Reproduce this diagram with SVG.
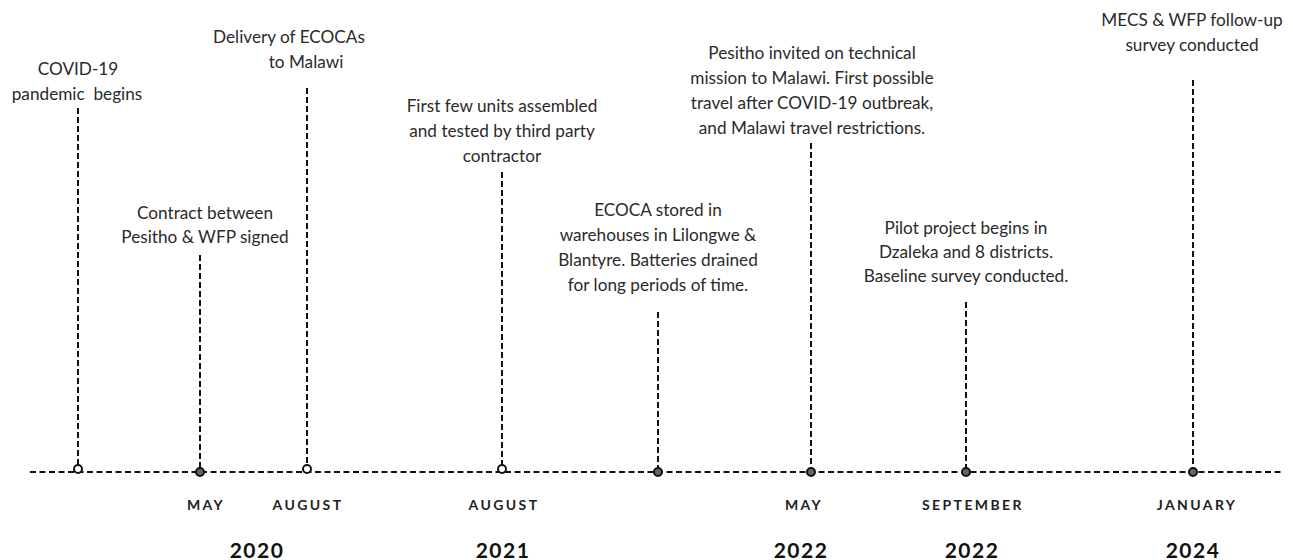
<svg xmlns="http://www.w3.org/2000/svg" width="1293" height="560" viewBox="0 0 1293 560">
<style>
.t{font-family:Lato,"Liberation Sans",sans-serif;font-size:17.2px;fill:#2a2a2a;text-anchor:middle}
.m{font-family:Lato,"Liberation Sans",sans-serif;font-size:14px;font-weight:bold;fill:#222;text-anchor:middle;letter-spacing:2.4px}
.y{font-family:Lato,"Liberation Sans",sans-serif;font-size:21px;font-weight:bold;fill:#111;text-anchor:middle;letter-spacing:1.5px}
.v{stroke:#111;stroke-width:2;stroke-dasharray:6 3;fill:none}
.h{stroke:#111;stroke-width:2;stroke-dasharray:6 3.5;fill:none}
.o{fill:#fff;stroke:#111;stroke-width:2}
.f{fill:#666;stroke:#111;stroke-width:2}
</style>
<rect width="1293" height="560" fill="#fff"/>
<g id="connectors">
<line class="h" x1="30" y1="472" x2="1281" y2="472"/>
<line class="v" x1="78" y1="108" x2="78" y2="466"/>
<line class="v" x1="200" y1="255" x2="200" y2="468"/>
<line class="v" x1="307" y1="88" x2="307" y2="466"/>
<line class="v" x1="502" y1="172" x2="502" y2="466"/>
<line class="v" x1="658" y1="312" x2="658" y2="468"/>
<line class="v" x1="811" y1="143" x2="811" y2="468"/>
<line class="v" x1="966" y1="302" x2="966" y2="468"/>
<line class="v" x1="1193" y1="80" x2="1193" y2="468"/>
</g>
<g id="covid">
<circle class="o" cx="78" cy="469" r="4"/>
<text class="t" x="78" y="75">COVID-19</text>
<text class="t" x="77" y="100" xml:space="preserve">pandemic  begins</text>
</g>
<g id="may2020">
<circle class="f" cx="200" cy="472" r="4"/>
<text class="t" x="205" y="219">Contract between</text>
<text class="t" x="205" y="243">Pesitho &amp; WFP signed</text>
<text class="m" x="206" y="510">MAY</text>
</g>
<g id="aug2020">
<circle class="o" cx="307" cy="469" r="4"/>
<text class="t" x="289" y="43">Delivery of ECOCAs</text>
<text class="t" x="306" y="68">to Malawi</text>
<text class="m" x="308" y="510">AUGUST</text>
<text class="y" x="257" y="558">2020</text>
</g>
<g id="aug2021">
<circle class="o" cx="502" cy="469" r="4"/>
<text class="t" x="502" y="112">First few units assembled</text>
<text class="t" x="502" y="137">and tested by third party</text>
<text class="t" x="502" y="162">contractor</text>
<text class="m" x="504" y="510">AUGUST</text>
<text class="y" x="503" y="558">2021</text>
</g>
<g id="stored">
<circle class="f" cx="658" cy="472" r="4"/>
<text class="t" x="658" y="216">ECOCA stored in</text>
<text class="t" x="658" y="241">warehouses in Lilongwe &amp;</text>
<text class="t" x="658" y="266">Blantyre. Batteries drained</text>
<text class="t" x="658" y="291">for long periods of time.</text>
</g>
<g id="may2022">
<circle class="f" cx="811" cy="472" r="4"/>
<text class="t" x="812" y="59">Pesitho invited on technical</text>
<text class="t" x="812" y="84">mission to Malawi. First possible</text>
<text class="t" x="812" y="109">travel after COVID-19 outbreak,</text>
<text class="t" x="812" y="134">and Malawi travel restrictions.</text>
<text class="m" x="804" y="510">MAY</text>
<text class="y" x="801" y="558">2022</text>
</g>
<g id="sep2022">
<circle class="f" cx="966" cy="472" r="4"/>
<text class="t" x="966" y="234">Pilot project begins in</text>
<text class="t" x="966" y="258">Dzaleka and 8 districts.</text>
<text class="t" x="966" y="282">Baseline survey conducted.</text>
<text class="m" x="973" y="510">SEPTEMBER</text>
<text class="y" x="972" y="558">2022</text>
</g>
<g id="jan2024">
<circle class="f" cx="1193" cy="472" r="4"/>
<text class="t" x="1192" y="26">MECS &amp; WFP follow-up</text>
<text class="t" x="1192" y="51">survey conducted</text>
<text class="m" x="1197" y="510">JANUARY</text>
<text class="y" x="1193" y="558">2024</text>
</g>
</svg>
